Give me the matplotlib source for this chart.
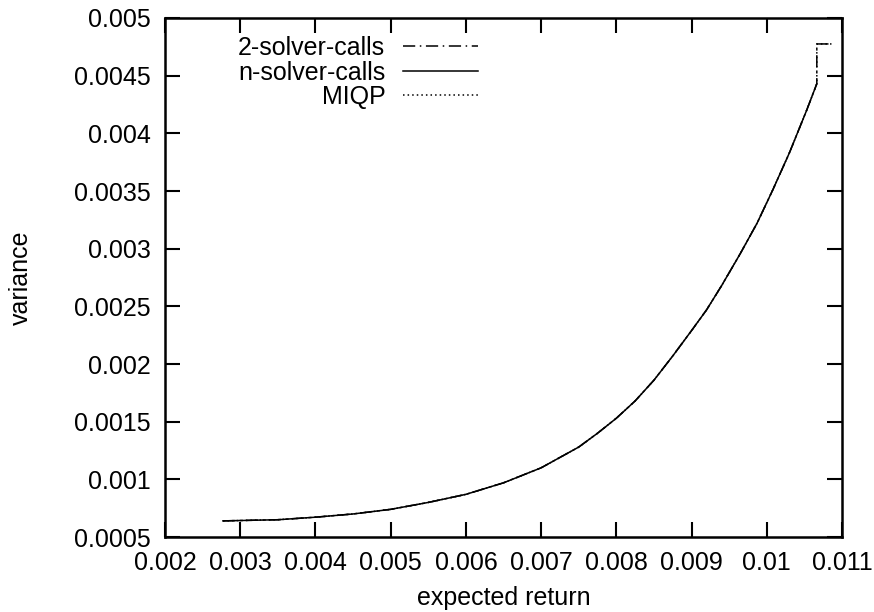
import matplotlib
matplotlib.use('Agg')
import matplotlib.pyplot as plt

plt.rcParams['font.family'] = ['Liberation Sans', 'DejaVu Sans']

# efficient frontier
ret = [0.00277, 0.0035, 0.004, 0.0045, 0.005, 0.0055, 0.006, 0.0065, 0.007, 0.0075,
       0.00775, 0.008, 0.00825, 0.0085, 0.00875, 0.009, 0.0092, 0.0094, 0.00965,
       0.00987, 0.01008, 0.0103, 0.01053, 0.010665]
var = [0.00064, 0.00065, 0.000672, 0.0007, 0.00074, 0.0008, 0.00087, 0.00097, 0.0011, 0.00128,
       0.0014, 0.00153, 0.00168, 0.00186, 0.00207, 0.00229, 0.00247, 0.00268, 0.00296,
       0.00322, 0.00351, 0.00383, 0.0042, 0.00443]

# the 2-solver and MIQP runs go a bit further at the top end
ret_ext = ret + [0.010665, 0.01086]
var_ext = var + [0.004775, 0.004775]

xticks = [0.002, 0.003, 0.004, 0.005, 0.006, 0.007, 0.008, 0.009, 0.01, 0.011]
xlabels = ['0.002', '0.003', '0.004', '0.005', '0.006', '0.007', '0.008', '0.009', '0.01', '0.011']
yticks = [0.0005, 0.001, 0.0015, 0.002, 0.0025, 0.003, 0.0035, 0.004, 0.0045, 0.005]
ylabels = ['0.0005', '0.001', '0.0015', '0.002', '0.0025', '0.003', '0.0035', '0.004', '0.0045', '0.005']

fig = plt.figure(figsize=(8.74, 6.12), dpi=100)
ax = fig.add_axes([0.1888, 0.1225, 0.7746, 0.8481])

ax.plot(ret_ext, var_ext, color='black', lw=1.1, ls=(0, (8, 3, 1, 3)), label='2-solver-calls')
ax.plot(ret, var, color='black', lw=1.1, ls='-', label='n-solver-calls')
ax.plot(ret_ext, var_ext, color='black', lw=1.1, ls=(0, (1, 2)), label='MIQP')

ax.set_xlim(0.002, 0.011)
ax.set_ylim(0.0005, 0.005)
ax.set_xticks(xticks)
ax.set_xticklabels(xlabels)
ax.set_yticks(yticks)
ax.set_yticklabels(ylabels)

ax.tick_params(direction='in', length=10.8, width=1.5, top=True, right=True,
               labelsize=18, pad=10)
for s in ax.spines.values():
    s.set_linewidth(1.8)

ax.set_xlabel('expected return', fontsize=18, labelpad=8)
ax.set_ylabel('variance', fontsize=18, labelpad=30)

ax.legend(loc='upper right', bbox_to_anchor=(0.462, 0.965), frameon=False,
          markerfirst=False, fontsize=18, handlelength=3.0, handletextpad=0.7,
          labelspacing=0.02, borderpad=0, borderaxespad=0)

plt.savefig('out.png')
